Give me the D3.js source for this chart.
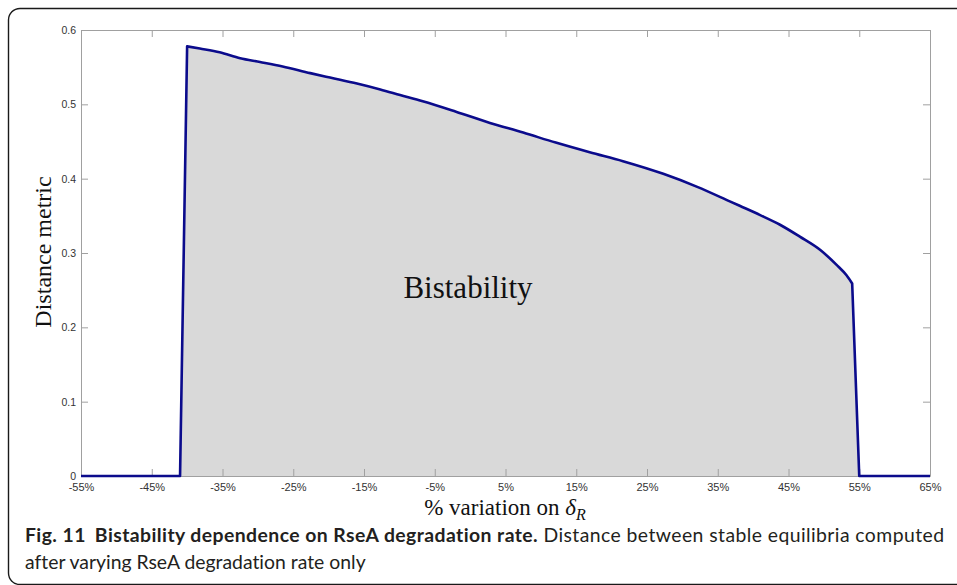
<!DOCTYPE html>
<html>
<head>
<meta charset="utf-8">
<script src="https://cdn.jsdelivr.net/npm/d3@7"></script>
<style>
  html, body { margin: 0; padding: 0; background: #fff; }
  svg { display: block; }
  text { font-variant-ligatures: none; font-feature-settings: "liga" 0; }
</style>
</head>
<body>
<svg id="fig" width="957" height="585"></svg>
<script>
// Percentage variation applied to the RseA degradation rate (delta_R)
const pctVariation = [-55, -41, -40, -38.2, -35.4, -32.5, -29.7, -26.5, -22.6, -19.8, -16, -12.7,
  -9.9, -6.7, -2, 2.8, 7.5, 12.1, 16.9, 21.6, 27.3, 32.1, 36.7, 38.1, 41, 43.8, 46.6, 49.5,
  51.8, 53.2, 54, 55, 65];
// Distance between the two stable equilibria (0 where the system is monostable)
const distanceMetric = [0, 0, 0.578, 0.575, 0.570, 0.562, 0.557, 0.551, 0.542, 0.536, 0.528, 0.520,
  0.5125, 0.504, 0.490, 0.475, 0.462, 0.4485, 0.4355, 0.4235, 0.4065, 0.389, 0.3695, 0.3635, 0.351, 0.338,
  0.322, 0.304, 0.284, 0.270, 0.259, 0, 0];

const xTickValues = [-55, -45, -35, -25, -15, -5, 5, 15, 25, 35, 45, 55, 65];
const xTickLabels = ["-55%", "-45%", "-35%", "-25%", "-15%", "-5%", "5%", "15%", "25%", "35%", "45%", "55%", "65%"];
const yTickValues = [0, 0.1, 0.2, 0.3, 0.4, 0.5, 0.6];
const yTickLabels = ["0", "0.1", "0.2", "0.3", "0.4", "0.5", "0.6"];

const points = pctVariation.map((x, i) => ({ x, y: distanceMetric[i] }));

const svg = d3.select("#fig");
const plot = { left: 81, right: 930, top: 30, bottom: 476 };

const x = d3.scaleLinear().domain([-55, 65]).range([plot.left, plot.right]);
const y = d3.scaleLinear().domain([0, 0.6]).range([plot.bottom, plot.top]);

// outer figure frame (rounded on the left, open past the right edge)
svg.append("path")
  .attr("d", "M 962 8.5 H 20 A 11.5 11.5 0 0 0 8.5 20 V 573 A 11.5 11.5 0 0 0 20 584.5 H 962")
  .attr("fill", "none")
  .attr("stroke", "#1a1a1a")
  .attr("stroke-width", 1.4);

// curve path: straight steps at the bifurcation points, smooth across the bistable range
const straight = d3.line().x(d => x(d.x)).y(d => y(d.y));
const smooth = d3.line().curve(d3.curveMonotoneX).x(d => x(d.x)).y(d => y(d.y));
const nonzero = points.filter(d => d.y > 0);
const firstIdx = points.indexOf(nonzero[0]);
const lastIdx = points.indexOf(nonzero[nonzero.length - 1]);
const curvePath =
  straight(points.slice(0, firstIdx)) +
  smooth(nonzero).replace(/^M/, "L") +
  straight(points.slice(lastIdx + 1)).replace(/^M/, "L");

// shaded bistability region
svg.append("path")
  .attr("fill", "#d9d9d9")
  .attr("d", curvePath + "Z");

// axes box with inward ticks on all four sides
const axisColor = "#a0a0a0";
const tickLen = 7;
function styleAxis(g) {
  g.select(".domain").attr("stroke", axisColor).attr("stroke-width", 1);
  g.selectAll(".tick line").attr("stroke", axisColor).attr("stroke-width", 1);
  g.selectAll(".tick text")
    .attr("fill", "#333")
    .style("font-family", "'Liberation Sans', Arial, sans-serif");
}

svg.append("g")
  .attr("transform", `translate(0,${plot.bottom})`)
  .call(d3.axisBottom(x).tickValues(xTickValues)
    .tickFormat((d, i) => xTickLabels[i]).tickSizeInner(-tickLen).tickSizeOuter(0).tickPadding(7))
  .call(styleAxis)
  .call(g => g.selectAll(".tick text").style("font-size", "11px"));

svg.append("g")
  .attr("transform", `translate(0,${plot.top})`)
  .call(d3.axisTop(x).tickValues(xTickValues).tickFormat("").tickSizeInner(-tickLen).tickSizeOuter(0))
  .call(styleAxis);

svg.append("g")
  .attr("transform", `translate(${plot.left},0)`)
  .call(d3.axisLeft(y).tickValues(yTickValues)
    .tickFormat((d, i) => yTickLabels[i]).tickSizeInner(-tickLen).tickSizeOuter(0).tickPadding(5))
  .call(styleAxis)
  .call(g => g.selectAll(".tick text").style("font-size", "10.5px"));

svg.append("g")
  .attr("transform", `translate(${plot.right},0)`)
  .call(d3.axisRight(y).tickValues(yTickValues).tickFormat("").tickSizeInner(-tickLen).tickSizeOuter(0))
  .call(styleAxis);

// distance curve
svg.append("path")
  .attr("fill", "none")
  .attr("stroke", "#0b0b8c")
  .attr("stroke-width", 2.6)
  .attr("stroke-linejoin", "round")
  .attr("d", curvePath);

// annotation and axis titles
const serif = "'Liberation Serif', 'Times New Roman', serif";
svg.append("text")
  .attr("x", 468).attr("y", 298)
  .attr("text-anchor", "middle")
  .style("font-family", serif).style("font-size", "31px").attr("fill", "#111")
  .text("Bistability");

svg.append("text")
  .attr("transform", "translate(51,252) rotate(-90)")
  .attr("text-anchor", "middle")
  .style("font-family", serif).style("font-size", "24px").attr("fill", "#111")
  .text("Distance metric");

const xTitle = svg.append("text")
  .attr("x", 505).attr("y", 515)
  .attr("text-anchor", "middle")
  .style("font-family", serif).style("font-size", "23px").attr("fill", "#111");
xTitle.append("tspan").text("% variation on ");
xTitle.append("tspan").style("font-style", "italic").text("δ");
xTitle.append("tspan").style("font-style", "italic").style("font-size", "16px")
  .attr("dy", 5).text("R");

// caption
const sans = "Lato, 'Open Sans', sans-serif";
const cap1 = svg.append("text")
  .attr("x", 25).attr("y", 542)
  .style("font-family", sans).style("font-size", "16px").attr("fill", "#231f20");
cap1.append("tspan").style("font-weight", "bold").text("Fig. 11");
cap1.append("tspan").style("font-weight", "bold").attr("dx", 9)
  .text("Bistability dependence on RseA degradation rate.");
cap1.append("tspan").text(" Distance between stable equilibria computed");

const cap2 = svg.append("text")
  .attr("x", 25).attr("y", 569)
  .style("font-family", sans).style("font-size", "16px").attr("fill", "#231f20")
  .text("after varying RseA degradation rate only");

// size the caption so its second line spans the text block, then fit line one
const capSize = 16 * 341 / cap2.node().getComputedTextLength();
cap1.style("font-size", capSize + "px");
cap2.style("font-size", capSize + "px");
const w1 = cap1.node().getComputedTextLength();
if (Math.abs(w1 - 919) > 4) cap1.attr("textLength", 919).attr("lengthAdjust", "spacing");
</script>
</body>
</html>
